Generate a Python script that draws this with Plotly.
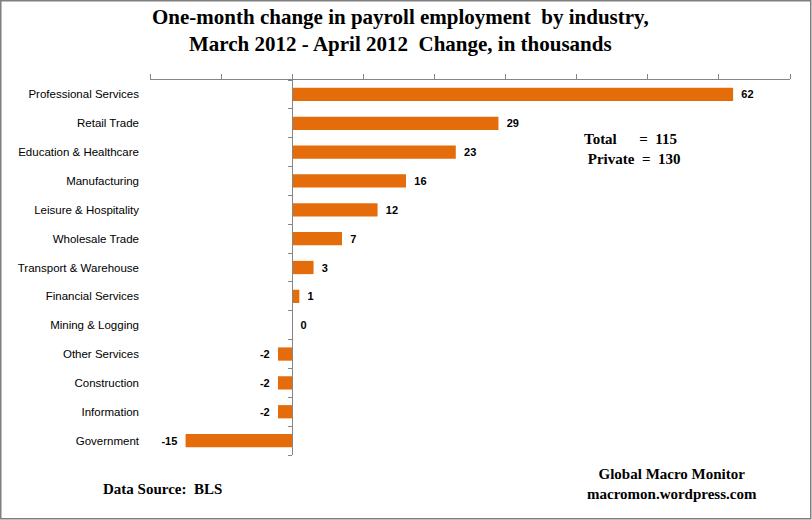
import numpy as np
import plotly.graph_objects as go

industries = ["Professional Services", "Retail Trade", "Education & Healthcare",
              "Manufacturing", "Leisure & Hospitality", "Wholesale Trade",
              "Transport & Warehouse", "Financial Services", "Mining & Logging",
              "Other Services", "Construction", "Information", "Government"]
changes = [62, 29, 23, 16, 12, 7, 3, 1, 0, -2, -2, -2, -15]
x_range = [-20, 70]

W, H = 812, 520
ml, mr, mt, mb = 150, 22, 80, 65
pw, ph = W - ml - mr, H - mt - mb

bar_color = "#E46C0A"
axis_color = "#868686"
serif = "Liberation Serif"

labels = [("\u2009 " + str(v)) if v >= 0 else (str(v) + " \u2009") for v in changes]

fig = go.Figure()
fig.add_trace(go.Bar(
    y=industries, x=changes, orientation="h",
    marker=dict(color=bar_color, line=dict(width=0)),
    width=0.46,
    text=labels, textposition="outside",
    textfont=dict(family="Liberation Sans", size=11, color="black", weight="bold"),
    cliponaxis=False, hoverinfo="skip",
))
# invisible trace for the zero-line tick axis
fig.add_trace(go.Scatter(x=[0], y=[0], xaxis="x", yaxis="y2", mode="markers",
                         marker=dict(opacity=0), showlegend=False, hoverinfo="skip"))

zero_pos = (0 - x_range[0]) / (x_range[1] - x_range[0])
n = len(industries)

fig.update_layout(
    width=W, height=H,
    margin=dict(l=ml, r=mr, t=mt, b=mb),
    paper_bgcolor="white", plot_bgcolor="white",
    showlegend=False,
    bargap=0.5,
    xaxis=dict(range=x_range, dtick=10, side="top", showline=True, linecolor=axis_color,
               linewidth=1, ticks="outside", ticklen=5, tickcolor=axis_color,
               showticklabels=False, showgrid=False, zeroline=False, fixedrange=True),
    yaxis=dict(autorange="reversed", showline=False, ticks="", showgrid=False,
               tickfont=dict(family="Liberation Sans", size=11.5, color="black"),
               ticklabelstandoff=10, fixedrange=True),
    yaxis2=dict(overlaying="y", anchor="free", position=zero_pos,
                range=[n - 0.5, -0.5], tickvals=list(np.arange(-0.5, n, 1.0)),
                showticklabels=False, ticks="outside", ticklen=4, tickcolor=axis_color,
                showline=True, linecolor=axis_color, linewidth=1, showgrid=False,
                zeroline=False, fixedrange=True),
)

annotations = [
    dict(text="<b>One-month change in payroll employment  by industry,<br>March 2012 - April 2012  Change, in thousands</b>",
         x=(400 - ml) / pw, y=1 + (mt - 30) / ph, xanchor="center", yanchor="middle",
         font=dict(family=serif, size=21, color="black"), showarrow=False, align="center"),
    dict(text="<b>Total      =  115<br> Private  =  130</b>",
         x=(582 - ml) / pw, y=1 - (149 - mt) / ph, xanchor="left", yanchor="middle",
         font=dict(family=serif, size=15, color="black"), showarrow=False, align="left"),
    dict(text="<b>Data Source:  BLS</b>",
         x=(101 - ml) / pw, y=-(489 - mt - ph) / ph, xanchor="left", yanchor="middle",
         font=dict(family=serif, size=15, color="black"), showarrow=False),
    dict(text="<b>Global Macro Monitor<br>macromon.wordpress.com</b>",
         x=(672 - ml) / pw, y=-(484 - mt - ph) / ph, xanchor="center", yanchor="middle",
         font=dict(family=serif, size=15, color="black"), showarrow=False, align="center"),
]
for a in annotations:
    a.update(xref="paper", yref="paper")
fig.update_layout(annotations=annotations)

# outer chart border
fig.add_shape(type="rect", xref="paper", yref="paper",
              x0=(0.75 - ml) / pw, x1=(W - 1.25 - ml) / pw,
              y0=-(mb - 1.25) / ph, y1=1 + (mt - 0.75) / ph,
              line=dict(color="#7F7F7F", width=1.5), fillcolor="rgba(0,0,0,0)")

fig.write_html("out.html", config={"displayModeBar": False},
               post_script="document.body.style.margin='0';")
